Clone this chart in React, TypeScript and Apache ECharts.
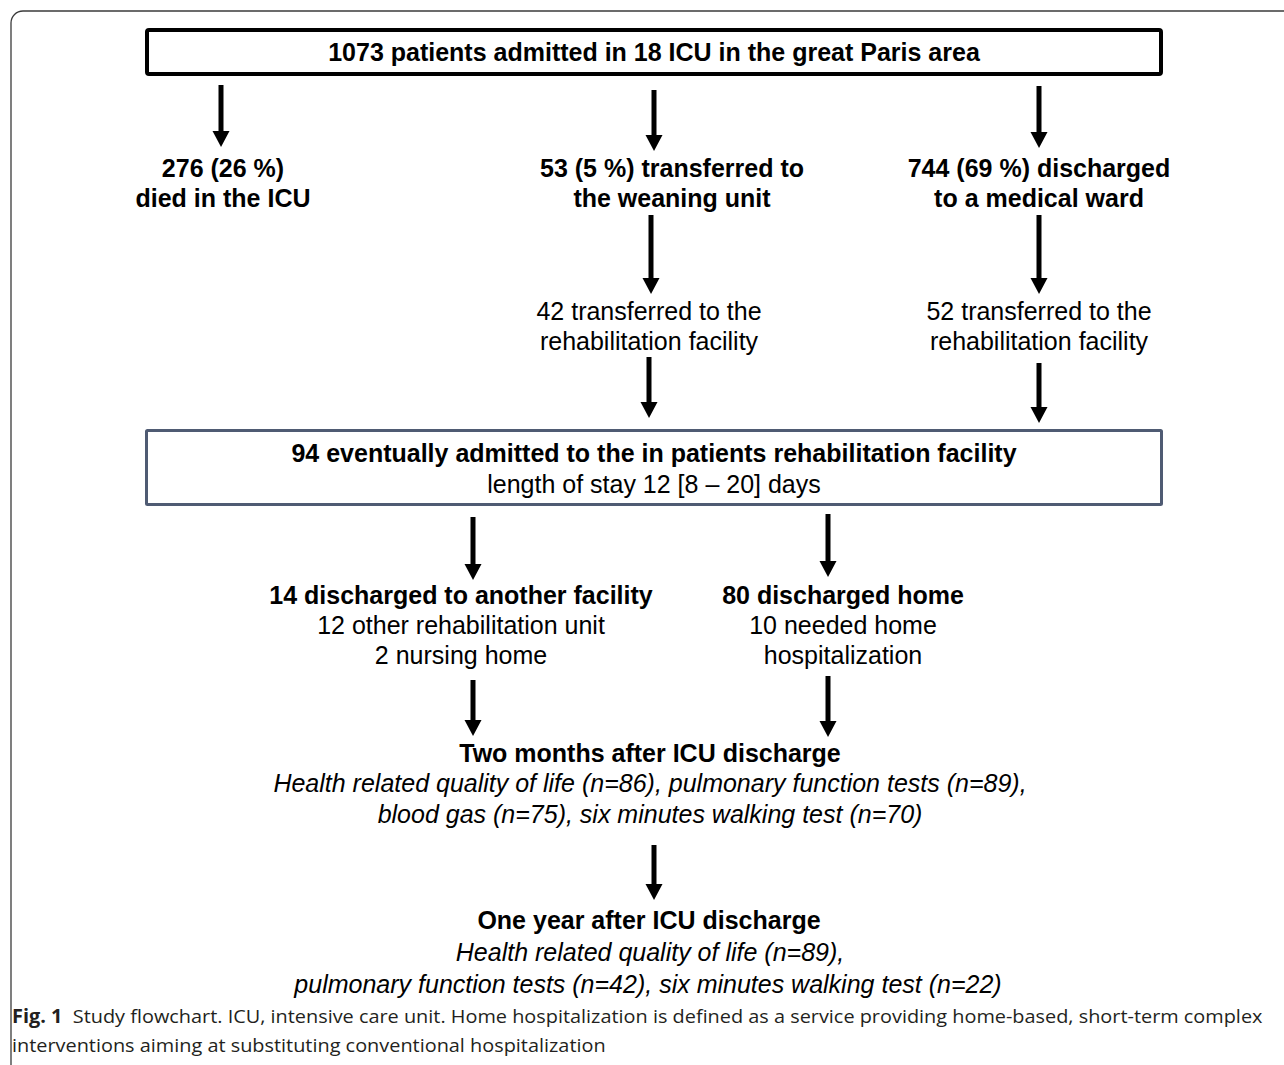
import React, { useEffect, useRef } from 'react';
import * as echarts from 'echarts';

// ---- Texts of the flowchart ----
const admittedTitle = '1073 patients admitted in 18 ICU in the great Paris area';
const icuOutcomes = [
  ['276 (26 %)', 'died in the ICU'],
  ['53 (5 %) transferred to', 'the weaning unit'],
  ['744 (69 %) discharged', 'to a medical ward'],
];
const rehabTransfers = [
  ['42 transferred to the', 'rehabilitation facility'],
  ['52 transferred to the', 'rehabilitation facility'],
];
const rehabBoxLines = [
  '94 eventually admitted to the in patients rehabilitation facility',
  'length of stay 12 [8 – 20] days',
];
const dischargeHeads = ['14 discharged to another facility', '80 discharged home'];
const dischargeDetails = [
  ['12 other rehabilitation unit', '2 nursing home'],
  ['10 needed home', 'hospitalization'],
];
const twoMonthsHead = 'Two months after ICU discharge';
const twoMonthsLines = [
  'Health related quality of life (n=86), pulmonary function tests (n=89),',
  'blood gas (n=75), six minutes walking test (n=70)',
];
const oneYearHead = 'One year after ICU discharge';
const oneYearLines = [
  'Health related quality of life (n=89),',
  'pulmonary function tests (n=42), six minutes walking test (n=22)',
];
const captionLabel = 'Fig. 1';
const captionLines = [
  'Study flowchart. ICU, intensive care unit. Home hospitalization is defined as a service providing home-based, short-term complex',
  'interventions aiming at substituting conventional hospitalization',
];

const FONT = 'Liberation Sans, Arial, sans-serif';
const CAP_FONT = 'Open Sans, sans-serif';

function txt(text: string, x: number, y: number, opt: any = {}) {
  return {
    type: 'text',
    x,
    y,
    silent: true,
    style: {
      text,
      fontSize: opt.fontSize ?? 25,
      fontWeight: opt.bold ? 'bold' : 'normal',
      fontStyle: opt.italic ? 'italic' : 'normal',
      fontFamily: opt.fontFamily ?? FONT,
      fill: opt.fill ?? '#000',
      align: opt.align ?? 'center',
      verticalAlign: 'middle',
    },
  };
}

function arrow(x: number, y1: number, y2: number) {
  const headLen = 16;
  const headW = 17;
  const shaft = 5;
  return {
    type: 'group',
    silent: true,
    children: [
      {
        type: 'rect',
        shape: { x: x - shaft / 2, y: y1, width: shaft, height: y2 - y1 - headLen + 1 },
        style: { fill: '#000' },
      },
      {
        type: 'polygon',
        shape: {
          points: [
            [x - headW / 2, y2 - headLen],
            [x + headW / 2, y2 - headLen],
            [x, y2],
          ],
        },
        style: { fill: '#000' },
      },
    ],
  };
}

function measure(text: string, font: string) {
  const c = document.createElement('canvas');
  const ctx = c.getContext('2d');
  if (!ctx) return 0;
  ctx.font = font;
  return ctx.measureText(text).width;
}

export default function App() {
  const ref = useRef<HTMLDivElement>(null);

  useEffect(() => {
    if (!ref.current) return;
    const chart = echarts.init(ref.current, undefined, { renderer: 'svg' });

    const els: any[] = [];

    // outer frame (left and top edges, rounded corner)
    const frameColor = '#3a3a3a';
    els.push({ type: 'line', silent: true, shape: { x1: 23, y1: 11, x2: 1284, y2: 11 }, style: { stroke: frameColor, lineWidth: 1.3 } });
    els.push({ type: 'line', silent: true, shape: { x1: 11, y1: 23, x2: 11, y2: 1065 }, style: { stroke: frameColor, lineWidth: 1.3 } });
    els.push({
      type: 'arc',
      silent: true,
      shape: { cx: 23, cy: 23, r: 12, startAngle: Math.PI, endAngle: Math.PI * 1.5, clockwise: true },
      style: { stroke: frameColor, lineWidth: 1.3, fill: 'none' },
    });

    // top box
    els.push({
      type: 'rect',
      silent: true,
      shape: { x: 147, y: 30, width: 1014, height: 44, r: 2 },
      style: { fill: '#fff', stroke: '#000', lineWidth: 4 },
    });
    els.push(txt(admittedTitle, 654, 52, { bold: true }));

    // first arrows
    els.push(arrow(221, 85, 147));
    els.push(arrow(654, 90, 151));
    els.push(arrow(1039, 86, 148));

    const outcomeX = [223, 672, 1039];
    icuOutcomes.forEach((lines, i) => {
      els.push(txt(lines[0], outcomeX[i], 168, { bold: true }));
      els.push(txt(lines[1], outcomeX[i], 198, { bold: true }));
    });

    els.push(arrow(651, 215, 294));
    els.push(arrow(1039, 215, 294));

    const transferX = [649, 1039];
    rehabTransfers.forEach((lines, i) => {
      els.push(txt(lines[0], transferX[i], 311));
      els.push(txt(lines[1], transferX[i], 341));
    });

    els.push(arrow(649, 357, 418));
    els.push(arrow(1039, 363, 423));

    // rehab box
    els.push({
      type: 'rect',
      silent: true,
      shape: { x: 146.5, y: 430.5, width: 1015, height: 74, r: 1 },
      style: { fill: '#fff', stroke: '#4f5b73', lineWidth: 3 },
    });
    els.push(txt(rehabBoxLines[0], 654, 453, { bold: true }));
    els.push(txt(rehabBoxLines[1], 654, 484));

    els.push(arrow(473, 517, 580));
    els.push(arrow(828, 514, 577));

    const dischargeX = [461, 843];
    dischargeHeads.forEach((h, i) => {
      els.push(txt(h, dischargeX[i], 595, { bold: true }));
      els.push(txt(dischargeDetails[i][0], dischargeX[i], 625));
      els.push(txt(dischargeDetails[i][1], dischargeX[i], 655));
    });

    els.push(arrow(473, 680, 736));
    els.push(arrow(828, 676, 737));

    els.push(txt(twoMonthsHead, 650, 753, { bold: true }));
    els.push(txt(twoMonthsLines[0], 650, 783, { italic: true }));
    els.push(txt(twoMonthsLines[1], 650, 814, { italic: true }));

    els.push(arrow(654, 845, 900));

    els.push(txt(oneYearHead, 649, 920, { bold: true }));
    els.push(txt(oneYearLines[0], 650, 952, { italic: true }));
    els.push(txt(oneYearLines[1], 648, 984, { italic: true }));

    // caption
    const capSize = 19;
    const w1 =
      measure(captionLabel + '  ', `bold ${capSize}px ${CAP_FONT}`) +
      measure(captionLines[0], `${capSize}px ${CAP_FONT}`);
    const sx = w1 > 0 ? 1251 / w1 : 0.9;
    els.push({
      type: 'text',
      x: 12,
      y: 1016,
      scaleX: sx,
      silent: true,
      style: {
        text: `{b|${captionLabel}}  ${captionLines[0]}`,
        fontSize: capSize,
        fontFamily: CAP_FONT,
        fill: '#231f20',
        align: 'left',
        verticalAlign: 'middle',
        rich: {
          b: { fontWeight: 'bold', fontSize: capSize, fontFamily: CAP_FONT, fill: '#231f20' },
        },
      },
    });
    els.push({
      type: 'text',
      x: 12,
      y: 1045,
      scaleX: sx,
      silent: true,
      style: {
        text: captionLines[1],
        fontSize: capSize,
        fontFamily: CAP_FONT,
        fill: '#231f20',
        align: 'left',
        verticalAlign: 'middle',
      },
    });

    chart.setOption({
      animation: false,
      backgroundColor: '#ffffff',
      graphic: { elements: els },
    });

    return () => chart.dispose();
  }, []);

  return (
    <div
      ref={ref}
      style={{ position: 'fixed', left: 0, top: 0, width: 1284, height: 1065, background: '#fff' }}
    />
  );
}
